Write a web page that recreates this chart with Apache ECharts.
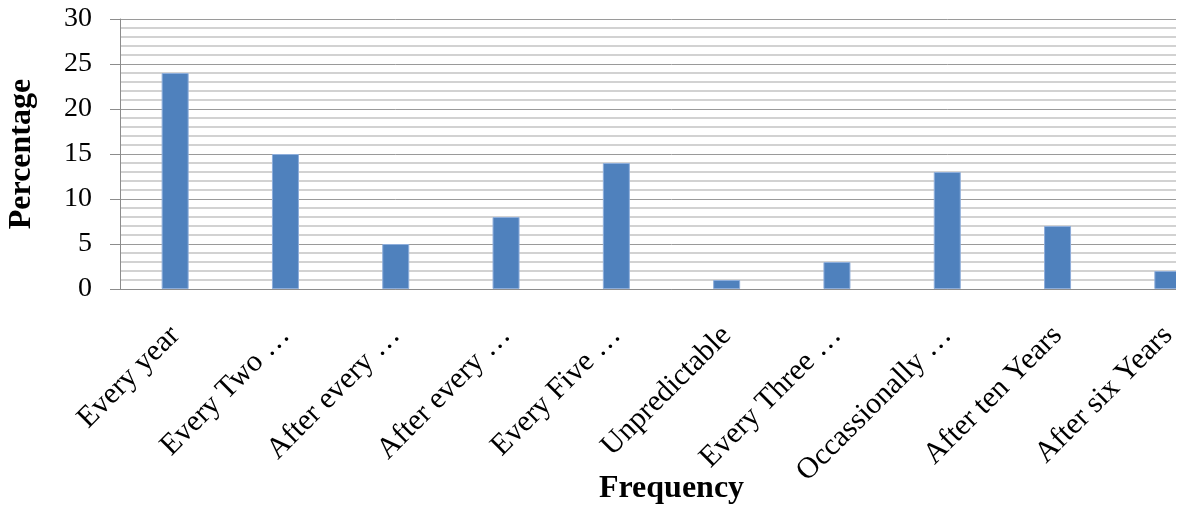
<!DOCTYPE html>
<html>
<head>
<meta charset="utf-8">
<script src="https://cdn.jsdelivr.net/npm/echarts@6/dist/echarts.min.js"></script>
<style>
html,body{margin:0;padding:0;background:#fff;}
#wrap{width:1176px;height:505px;overflow:hidden;}
#chart{width:1240px;height:505px;}
</style>
</head>
<body>
<div id="wrap"><div id="chart"></div></div>
<script>
const categories = ["Every year", "Every Two \u2026", "After every \u2026", "After every \u2026", "Every Five \u2026", "Unpredictable", "Every Three \u2026", "Occassionally \u2026", "After ten Years", "After six Years"];
const values = [24, 15, 5, 8, 14, 1, 3, 13, 7, 2];
const yTicks = [0, 5, 10, 15, 20, 25, 30];

const chart = echarts.init(document.getElementById('chart'));
chart.setOption({
  animation: false,
  grid: {left: 120, top: 19, width: 1103, bottom: 216, containLabel: false, outerBoundsMode: 'none'},
  xAxis: {
    type: 'category',
    data: categories,
    name: 'Frequency',
    nameLocation: 'middle',
    nameGap: 184,
    nameMoveOverlap: false,
    nameTextStyle: {fontFamily: 'Liberation Serif', fontWeight: 'bold', fontSize: 32, color: '#000'},
    axisLine: {lineStyle: {color: '#8c8c8c', width: 1}},
    axisTick: {show: false},
    axisLabel: {rotate: 45, interval: 0, margin: 42, fontFamily: 'Liberation Serif', fontSize: 30, color: '#000'},
    splitLine: {show: false}
  },
  yAxis: {
    type: 'value',
    min: yTicks[0], max: yTicks[yTicks.length - 1], interval: 5,
    name: 'Percentage',
    nameLocation: 'middle',
    nameGap: 82,
    nameMoveOverlap: false,
    nameTextStyle: {fontFamily: 'Liberation Serif', fontWeight: 'bold', fontSize: 32, color: '#000'},
    axisLine: {show: true, lineStyle: {color: '#8c8c8c', width: 1}},
    axisTick: {show: true, length: 10, lineStyle: {color: '#8c8c8c'}},
    axisLabel: {margin: 28, fontFamily: 'Liberation Serif', fontSize: 28, color: '#000'},
    splitLine: {show: true, lineStyle: {color: '#9a9a9a', width: 1}},
    minorTick: {show: false, splitNumber: 5},
    minorSplitLine: {show: true, lineStyle: {color: '#c4c4c4', width: 1.5}}
  },
  series: [{
    type: 'bar',
    data: values,
    barWidth: 27,
    itemStyle: {color: '#4f81bd', borderColor: '#8eaedb', borderWidth: 1}
  }]
});
</script>
</body>
</html>
